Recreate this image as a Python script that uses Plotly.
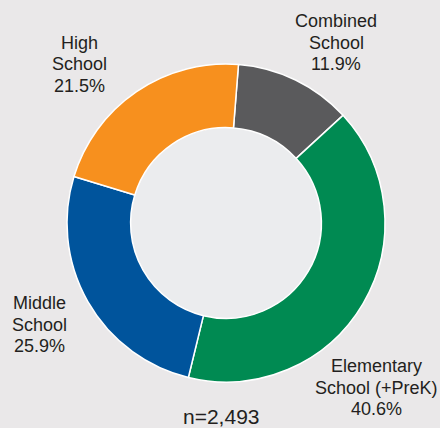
import plotly.graph_objects as go

# --- data ---
labels = ["Combined School", "Elementary School (+PreK)", "Middle School", "High School"]
label_lines = [["Combined", "School"], ["Elementary", "School (+PreK)"],
               ["Middle", "School"], ["High", "School"]]
shares = [11.9, 40.6, 25.9, 21.5]
n_total = "2,493"

colors = ["#5A5A5C", "#008A52", "#00549C", "#F7901E"]
bg = "#EAE8E9"
W, H = 440, 428

fig = go.Figure()
fig.add_trace(go.Pie(
    labels=labels, values=shares, hole=0.6, sort=False,
    direction="clockwise", rotation=4.5,
    marker=dict(colors=colors, line=dict(color="white", width=1.5)),
    textinfo="none", hoverinfo="label+percent", showlegend=False,
    domain=dict(x=[67 / W, 385 / W], y=[1 - 382 / H, 1 - 64 / H]),
))

# label placement: (x centre, y of first line) in pixels, 21.5px line step
label_pos = [(336, 20), (376, 365), (39, 302), (79, 42)]
annotations = []
for lines, val, (px, py) in zip(label_lines, shares, label_pos):
    for i, line in enumerate(lines + [f"{val}%"]):
        annotations.append(dict(
            text=line, x=px / W, y=1 - (py + i * 21.5 + 1) / H,
            xref="paper", yref="paper", xanchor="center", yanchor="middle",
            showarrow=False, font=dict(size=18, color="#231F20"),
        ))
annotations.append(dict(
    text=f"n={n_total}", x=221 / W, y=1 - 416 / H,
    xref="paper", yref="paper", xanchor="center", yanchor="middle",
    showarrow=False, font=dict(size=21, color="#231F20"),
))

cx, cy, r = 226, 223, 96
fig.update_layout(
    width=W, height=H,
    margin=dict(l=0, r=0, t=0, b=0),
    paper_bgcolor=bg, plot_bgcolor=bg,
    font=dict(family="Liberation Sans, Arial, Helvetica, sans-serif"),
    annotations=annotations,
    shapes=[dict(type="circle", xref="paper", yref="paper", layer="below",
                 x0=(cx - r) / W, x1=(cx + r) / W,
                 y0=1 - (cy + r) / H, y1=1 - (cy - r) / H,
                 fillcolor="#EBECEE", line=dict(width=0))],
)

fig.write_html("out.html", config={"displayModeBar": False},
               post_script="document.body.style.margin='0';")
